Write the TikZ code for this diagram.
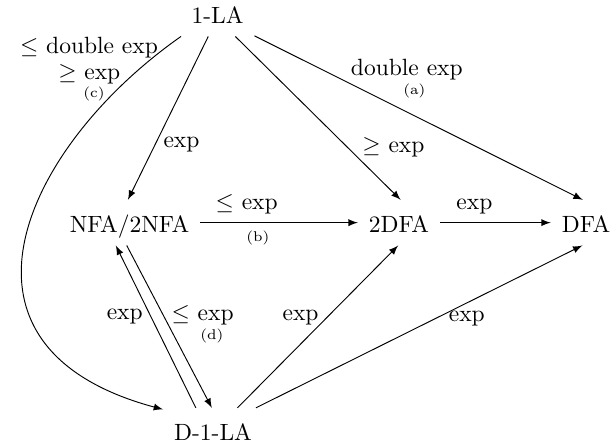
\documentclass[tikz,border=0pt]{standalone}
\newcommand{\smalltag}[1]{{\fontsize{6}{7}\selectfont #1}}
\begin{document}
\begin{tikzpicture}[>=latex, model/.style={inner xsep=4.5pt, inner ysep=4.5pt, text height=9pt, text depth=1pt}]
	\useasboundingbox (0,0) rectangle (9.118,6.652);
	\node[model] (onela) at (3.251,6.448) {1-LA};
	\node[model] (nfa) at (1.936,3.324) {NFA/2NFA};
	\node[model] (twodfa) at (5.964,3.324) {2DFA};
	\node[model] (dfa) at (8.759,3.324) {DFA};
	\node[model] (donela) at (3.184,0.215) {D-1-LA};
	\draw[->] (onela.-112) -- node[right,pos=0.66] {exp} (nfa.94);
	\draw[->] (onela.-52) -- node[right=3pt,pos=0.676] {$\geq$ exp} (twodfa.86);
	\draw[->] (onela.-31) -- node[above=10pt,pos=0.464] {double exp} node[above=4pt,pos=0.487] {\smalltag{(a)}} (dfa.98);
	\draw[->] (onela.-148) to[out=-145,in=165,out distance=81pt,in distance=103pt]
		node[left,pos=0.032] {$\leq$ double exp}
		node[left=2pt,pos=0.107] {$\geq$ exp}
		node[left,pos=0.157] {\smalltag{(c)}} (donela.157);
	\draw[->] (nfa.east) -- node[above,pos=0.294] {$\leq$ exp} node[below,pos=0.365] {\smalltag{(b)}} (twodfa.west);
	\draw[->] (twodfa.east) -- node[above,pos=0.31] {exp} (dfa.west);
	\draw[->] (donela.127) -- node[left,pos=0.56] {exp} (nfa.-121.5);
	\draw[->] (nfa.-97) -- node[right,pos=0.43] {$\leq$ exp} node[right=7.5pt,pos=0.56] {\smalltag{(d)}} (donela.93);
	\draw[->] (donela.43) -- node[left,pos=0.556] {exp} (twodfa.-92);
	\draw[->] (donela.28) -- node[below,pos=0.646] {exp} (dfa.-99);
\end{tikzpicture}
\end{document}
